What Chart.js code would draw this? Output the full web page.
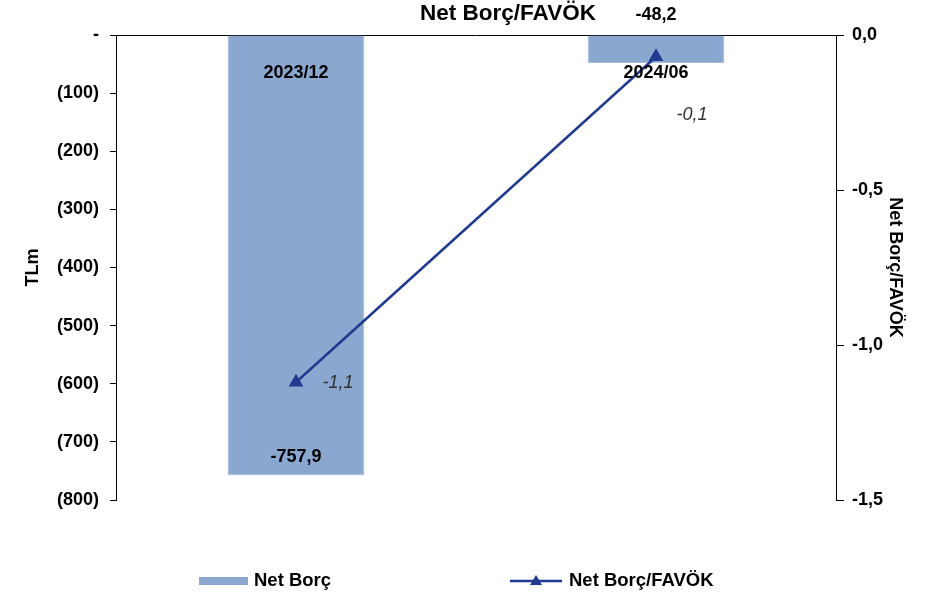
<!DOCTYPE html>
<html>
<head>
<meta charset="utf-8">
<script src="https://cdn.jsdelivr.net/npm/chart.js@4"></script>
<style>
  body { margin: 0; background: #fff; }
  #wrap { width: 927px; height: 597px; }
</style>
</head>
<body>
<div id="wrap"><canvas id="borc" width="927" height="597"></canvas></div>
<script>
// dönemler ve seriler
const donemler = ['2023/12', '2024/06'];
const netBorc = [-757.9, -48.2];
const netBorcFavok = [-1.12, -0.07];

const barColor = '#8AA7CF';
const lineColor = '#1F3A8F';
const fontName = '"Liberation Sans", Arial, sans-serif';

function fmt(v, d) {
  return v.toFixed(d).replace('.', ',');
}

// etiketler, başlık ve lejant
const etiketPlugin = {
  id: 'etiketler',
  afterDatasetsDraw(chart) {
    const ctx = chart.ctx;
    const area = chart.chartArea;
    const zeroY = chart.scales.y.getPixelForValue(0);
    const barMeta = chart.getDatasetMeta(1);
    const lineMeta = chart.getDatasetMeta(0);
    ctx.save();
    ctx.textAlign = 'center';
    ctx.textBaseline = 'middle';
    ctx.fillStyle = '#000';
    ctx.font = 'bold 18px ' + fontName;
    barMeta.data.forEach((el, i) => {
      // kategori adı sıfır çizgisinin altında
      ctx.fillText(donemler[i], el.x, zeroY + 38);
      let y;
      if (el.y - el.base > 60) {
        y = el.y - 18;
      } else {
        y = area.top - 20;
      }
      ctx.fillText(fmt(netBorc[i], 1), el.x, y);
    });
    // oran etiketleri
    const ofs = [[42, 1], [36, 58]];
    ctx.font = 'italic 18px ' + fontName;
    ctx.fillStyle = '#303030';
    lineMeta.data.forEach((pt, i) => {
      ctx.fillText(fmt(netBorcFavok[i], 1), pt.x + ofs[i][0], pt.y + ofs[i][1]);
    });
    ctx.restore();
  },
  afterDraw(chart) {
    const ctx = chart.ctx;
    ctx.save();
    ctx.fillStyle = '#000';
    ctx.textBaseline = 'middle';
    ctx.textAlign = 'center';
    ctx.font = 'bold 22.5px ' + fontName;
    ctx.fillText('Net Borç/FAVÖK', 508, 14);

    // lejant
    ctx.textAlign = 'left';
    ctx.font = 'bold 18.5px ' + fontName;
    ctx.fillStyle = barColor;
    ctx.fillRect(199, 577, 49, 8);
    ctx.fillStyle = '#000';
    ctx.fillText('Net Borç', 254, 581);

    ctx.strokeStyle = lineColor;
    ctx.lineWidth = 2.5;
    ctx.beginPath();
    ctx.moveTo(510, 581);
    ctx.lineTo(562, 581);
    ctx.stroke();
    ctx.fillStyle = lineColor;
    ctx.beginPath();
    ctx.moveTo(536, 575);
    ctx.lineTo(542, 585);
    ctx.lineTo(530, 585);
    ctx.closePath();
    ctx.fill();
    ctx.fillStyle = '#000';
    ctx.fillText('Net Borç/FAVÖK', 569, 581);
    ctx.restore();
  }
};

new Chart(document.getElementById('borc'), {
  data: {
    labels: donemler,
    datasets: [
      {
        type: 'line',
        label: 'Net Borç/FAVÖK',
        data: netBorcFavok,
        yAxisID: 'y1',
        borderColor: lineColor,
        backgroundColor: lineColor,
        borderWidth: 2.5,
        pointStyle: 'triangle',
        pointRadius: 6,
        pointBackgroundColor: lineColor,
        pointBorderColor: lineColor
      },
      {
        type: 'bar',
        label: 'Net Borç',
        data: netBorc,
        yAxisID: 'y',
        backgroundColor: barColor,
        borderColor: '#A8BEDF',
        borderWidth: 1,
        categoryPercentage: 1,
        barPercentage: 0.38
      }
    ]
  },
  options: {
    responsive: false,
    animation: false,
    layout: { padding: { top: 35, bottom: 97, left: 0, right: 0 } },
    plugins: {
      legend: { display: false },
      title: { display: false },
      tooltip: { enabled: false }
    },
    scales: {
      x: { display: false },
      y: {
        position: 'left',
        min: -800,
        max: 0,
        afterFit: s => { s.width = 116; },
        ticks: {
          stepSize: 100,
          padding: 11,
          color: '#000',
          font: { family: fontName, size: 18, weight: 'bold' },
          callback: v => v === 0 ? '-' : '(' + Math.abs(v) + ')'
        },
        grid: {
          drawOnChartArea: true,
          color: c => c.tick && c.tick.value === 0 ? '#000' : 'rgba(0,0,0,0)',
          tickColor: '#000',
          tickLength: 6,
          lineWidth: 1
        },
        border: { display: true, color: '#000', width: 1 },
        title: {
          display: true,
          text: 'TLm',
          color: '#000',
          font: { family: fontName, size: 18, weight: 'bold' },
          padding: { top: 22, bottom: 0 }
        }
      },
      y1: {
        position: 'right',
        min: -1.5,
        max: 0,
        afterFit: s => { s.width = 91; },
        ticks: {
          stepSize: 0.5,
          padding: 8,
          color: '#000',
          font: { family: fontName, size: 18, weight: 'bold' },
          callback: v => fmt(v, 1)
        },
        grid: {
          drawOnChartArea: false,
          tickColor: '#000',
          tickLength: 8
        },
        border: { display: true, color: '#000', width: 1 },
        title: {
          display: true,
          text: 'Net Borç/FAVÖK',
          color: '#000',
          font: { family: fontName, size: 18, weight: 'bold' },
          padding: { top: 21, bottom: 0 }
        }
      }
    }
  },
  plugins: [etiketPlugin]
});
</script>
</body>
</html>
